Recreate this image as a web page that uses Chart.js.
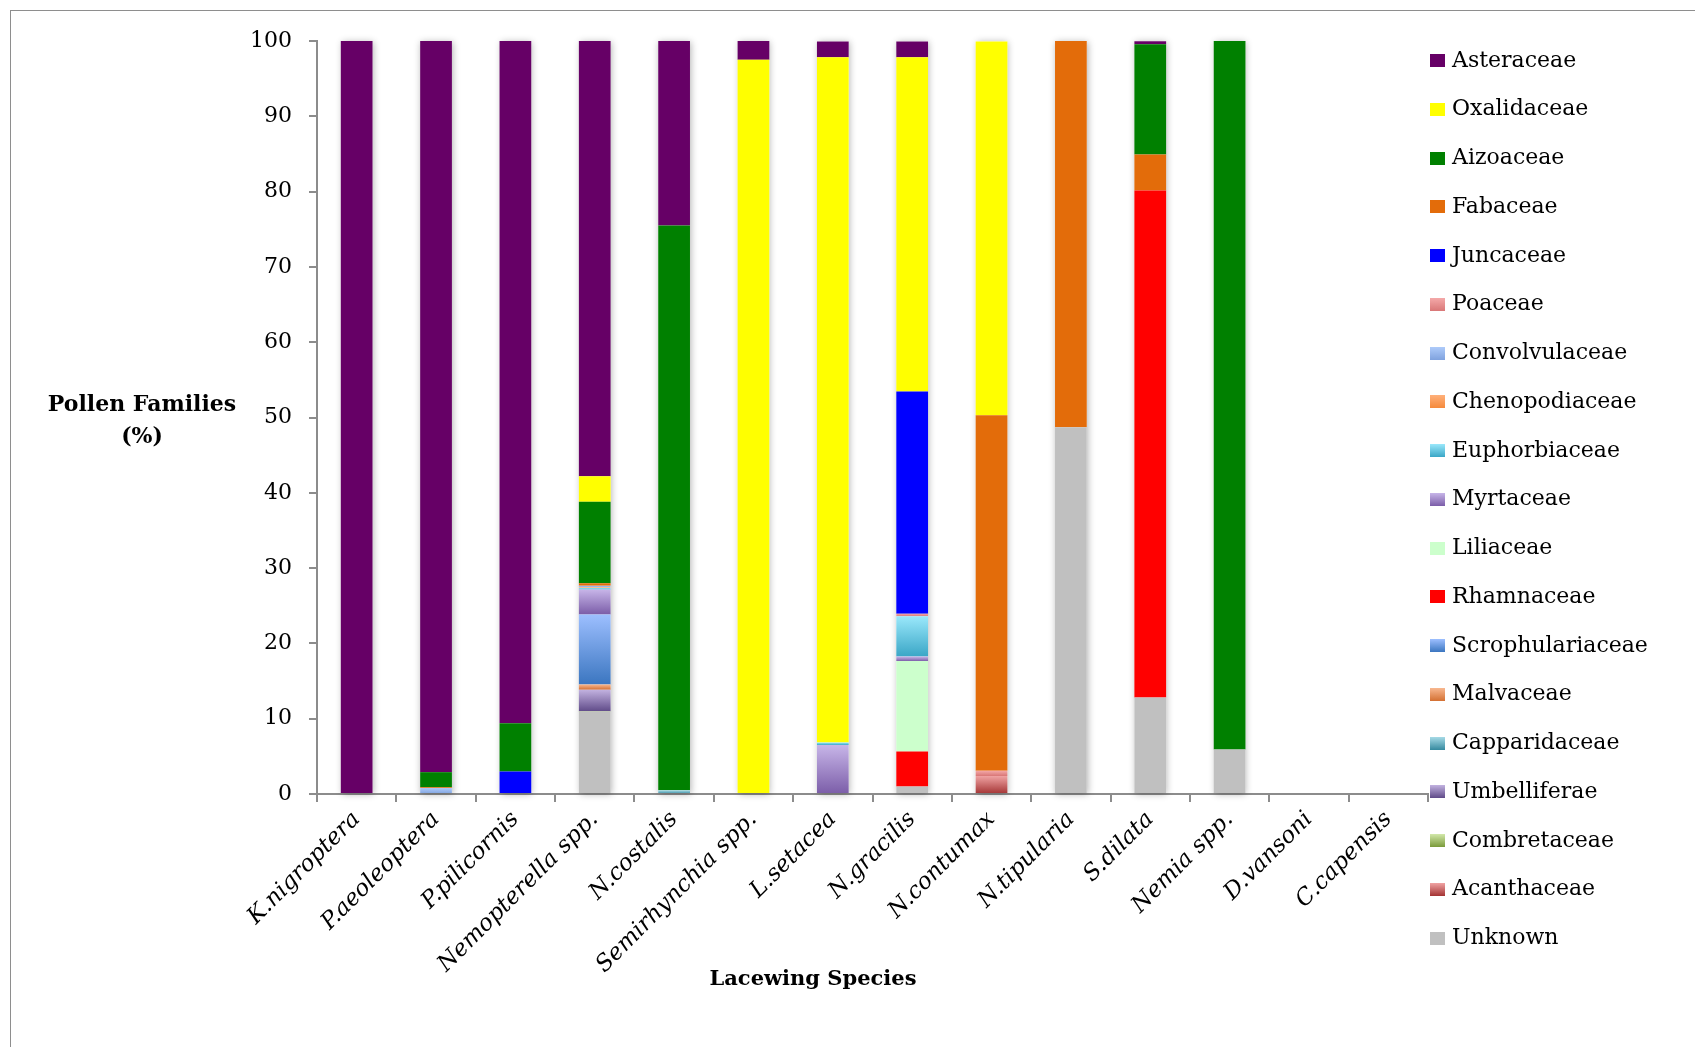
<!DOCTYPE html>
<html>
<head>
<meta charset="utf-8">
<script src="https://cdn.jsdelivr.net/npm/chart.js@4.4.1/dist/chart.umd.min.js"></script>
<style>
  html, body { margin: 0; padding: 0; background: #fff; }
  #wrap { position: relative; width: 1695px; height: 1047px; overflow: hidden; }
  #frame { position: absolute; left: 10px; top: 10px; width: 2000px; height: 2000px; border: 1.5px solid #8e8e8e; }
  #chart { position: absolute; left: 0; top: 0; }
  .ytitle { position: absolute; left: 42px; top: 387px; width: 200px; text-align: center;
            font: bold 22px "DejaVu Serif"; line-height: 32px; color: #000; }
  .xtitle { position: absolute; left: 613px; top: 965px; width: 400px; text-align: center;
            font: bold 21px "DejaVu Serif"; line-height: 26px; color: #000; }
  .lg-box { position: absolute; width: 15px; height: 13px; }
  .lg-text { position: absolute; font: 22px "DejaVu Serif"; line-height: 26px; color: #000; white-space: nowrap; }
</style>
</head>
<body>
<div id="wrap">
  <div id="frame"></div>
  <canvas id="chart" width="1695" height="1047"></canvas>
  <div class="ytitle">Pollen Families<br>(%)</div>
  <div class="xtitle">Lacewing Species</div>
  <div id="legend"></div>
</div>
<script>
// lacewing species on the x axis
const species = ['K.nigroptera', 'P.aeoleoptera', 'P.pilicornis', 'Nemopterella spp.', 'N.costalis',
  'Semirhynchia spp.', 'L.setacea', 'N.gracilis', 'N.contumax', 'N.tipularia', 'S.dilata',
  'Nemia spp.', 'D.vansoni', 'C.capensis'];

// pollen family percentages, one value per species
const asteraceae       = [100, 97.1, 90.6, 57.8, 24.5, 2.5, 2.1, 2.1, 0, 0, 0.4, 0, 0, 0];
const oxalidaceae      = [0, 0, 0, 3.4, 0, 97.5, 91.0, 44.4, 49.65, 0, 0, 0, 0, 0];
const aizoaceae        = [0, 2.0, 6.4, 10.8, 75.0, 0, 0, 0, 0, 0, 14.65, 94.1, 0, 0];
const fabaceae         = [0, 0.1, 0, 0.35, 0, 0, 0, 0, 47.2, 51.3, 4.8, 0, 0, 0];
const juncaceae        = [0, 0, 3.0, 0, 0, 0, 0, 29.5, 0, 0, 0, 0, 0, 0];
const poaceae          = [0, 0, 0, 0, 0, 0, 0, 0.35, 0.7, 0, 0, 0, 0, 0];
const convolvulaceae   = [0, 0.8, 0, 0.2, 0, 0, 0, 0, 0, 0, 0, 0, 0, 0];
const chenopodiaceae   = [0, 0, 0, 0.1, 0, 0, 0, 0, 0, 0, 0, 0, 0, 0];
const euphorbiaceae    = [0, 0, 0, 0.2, 0, 0, 0.35, 5.35, 0, 0, 0, 0, 0, 0];
const myrtaceae        = [0, 0, 0, 3.3, 0, 0, 6.5, 0.6, 0, 0, 0, 0, 0, 0];
const liliaceae        = [0, 0, 0, 0, 0, 0, 0, 12.0, 0, 0, 0, 0, 0, 0];
const rhamnaceae       = [0, 0, 0, 0, 0, 0, 0, 4.65, 0, 0, 67.3, 0, 0, 0];
const scrophulariaceae = [0, 0, 0, 9.3, 0, 0, 0, 0, 0, 0, 0, 0, 0, 0];
const malvaceae        = [0, 0, 0, 0.7, 0, 0, 0, 0, 0, 0, 0, 0, 0, 0];
const capparidaceae    = [0, 0, 0, 0, 0.5, 0, 0, 0, 0, 0, 0, 0, 0, 0];
const umbelliferae     = [0, 0, 0, 2.9, 0, 0, 0, 0, 0, 0, 0, 0, 0, 0];
const combretaceae     = [0, 0, 0, 0.05, 0, 0, 0, 0, 0, 0, 0, 0, 0, 0];
const acanthaceae      = [0, 0, 0, 0, 0, 0, 0, 0, 2.4, 0, 0, 0, 0, 0];
const unknown          = [0, 0, 0, 10.9, 0, 0, 0, 1.0, 0, 48.7, 12.83, 5.9, 0, 0];

const yTicks = [0, 10, 20, 30, 40, 50, 60, 70, 80, 90, 100];

// legend order (top of legend = top of the stack)
const familyNames = ['Asteraceae', 'Oxalidaceae', 'Aizoaceae', 'Fabaceae', 'Juncaceae', 'Poaceae',
  'Convolvulaceae', 'Chenopodiaceae', 'Euphorbiaceae', 'Myrtaceae', 'Liliaceae', 'Rhamnaceae',
  'Scrophulariaceae', 'Malvaceae', 'Capparidaceae', 'Umbelliferae', 'Combretaceae', 'Acanthaceae', 'Unknown'];
const familyValues = [asteraceae, oxalidaceae, aizoaceae, fabaceae, juncaceae, poaceae,
  convolvulaceae, chenopodiaceae, euphorbiaceae, myrtaceae, liliaceae, rhamnaceae,
  scrophulariaceae, malvaceae, capparidaceae, umbelliferae, combretaceae, acanthaceae, unknown];

// plain colours, or [light, dark] for the Excel-style vertical gradients
const familyColors = ['#660066', '#ffff00', '#008000', '#e36c0a', '#0000ff', ['#f4a9a9', '#d97777'],
  ['#aecbfa', '#7fa2de'], ['#ffb07a', '#f58a3c'], ['#9ae8fb', '#3aa6c6'], ['#c7b5e8', '#7b5da8'],
  '#ccffcc', '#ff0000', ['#9dbfff', '#3b76c0'], ['#f8b890', '#d47032'], ['#a6dae6', '#35899f'],
  ['#c2b2e0', '#5f4a88'], ['#d2e8aa', '#7a9a3a'], ['#f0a3a3', '#a33333'], '#c0c0c0'];

function fillFor(color) {
  if (!Array.isArray(color)) return color;
  return (ctx) => {
    const chart = ctx.chart;
    if (ctx.type !== 'data' || !chart.chartArea) return color[0];
    const y = chart.scales.y;
    let base = 0;
    for (let k = 0; k < ctx.datasetIndex; k++) base += chart.data.datasets[k].data[ctx.dataIndex];
    const top = y.getPixelForValue(base + ctx.raw);
    const bot = y.getPixelForValue(base);
    if (bot - top < 1) return color[0];
    const g = chart.ctx.createLinearGradient(0, top, 0, bot);
    g.addColorStop(0, color[0]);
    g.addColorStop(1, color[1]);
    return g;
  };
}

// Chart.js stacks the first dataset at the bottom, so build them in reverse
const datasets = familyNames.map((name, i) => ({
  label: name,
  data: familyValues[i],
  backgroundColor: fillFor(familyColors[i]),
  borderWidth: 0,
  barPercentage: 0.4,
  categoryPercentage: 1
})).reverse();

// soft drop shadow behind each whole stack, like the Excel original
const stackShadow = {
  id: 'stackShadow',
  beforeDatasetsDraw(chart) {
    const c = chart.ctx;
    const metas = chart.getSortedVisibleDatasetMetas();
    species.forEach((_, j) => {
      let top = Infinity, bot = -Infinity, x = 0, w = 0;
      metas.forEach((m) => {
        const el = m.data[j];
        if (!el || el.base - el.y <= 0) return;
        top = Math.min(top, el.y);
        bot = Math.max(bot, el.base);
        x = el.x;
        w = el.width;
      });
      if (top >= bot) return;
      c.save();
      c.shadowColor = 'rgba(0,0,0,0.3)';
      c.shadowBlur = 7;
      c.shadowOffsetX = 1;
      c.shadowOffsetY = 1;
      c.fillStyle = '#fff';
      c.fillRect(x - w / 2, top, w, bot - top);
      c.restore();
    });
  }
};

const axisGrey = '#8c8c8c';

new Chart(document.getElementById('chart'), {
  type: 'bar',
  data: { labels: species, datasets },
  plugins: [stackShadow],
  options: {
    responsive: false,
    animation: false,
    layout: { padding: { left: 0, right: 267, top: 41, bottom: 0 } },
    plugins: { legend: { display: false }, tooltip: { enabled: false } },
    scales: {
      x: {
        stacked: true,
        grid: { drawOnChartArea: false, drawTicks: true, tickLength: 8, color: axisGrey, lineWidth: 2, offset: true },
        border: { color: axisGrey, width: 2 },
        ticks: {
          autoSkip: false, minRotation: 45, maxRotation: 45, padding: 4, color: '#000',
          font: { family: 'DejaVu Serif', style: 'italic', size: 23 }
        },
        afterFit: (s) => { s.height = 253; }
      },
      y: {
        stacked: true,
        min: 0,
        max: 100,
        afterBuildTicks: (s) => { s.ticks = yTicks.map(v => ({ value: v })); },
        grid: { drawOnChartArea: false, drawTicks: true, tickLength: 8, color: axisGrey, lineWidth: 2 },
        border: { color: axisGrey, width: 2 },
        ticks: { padding: 17, color: '#000', font: { family: 'DejaVu Serif', size: 22 } },
        afterFit: (s) => { s.width = 317; }
      }
    }
  }
});

// legend as html, same order as the figure
const legend = document.getElementById('legend');
familyNames.forEach((name, i) => {
  const cy = 60.5 + i * 48.76;
  const c = familyColors[i];
  const box = document.createElement('div');
  box.className = 'lg-box';
  box.style.left = '1430px';
  box.style.top = (cy - 6.5) + 'px';
  box.style.background = Array.isArray(c) ? `linear-gradient(${c[0]}, ${c[1]})` : c;
  legend.appendChild(box);
  const t = document.createElement('div');
  t.className = 'lg-text';
  t.style.left = '1452px';
  t.style.top = (cy - 14) + 'px';
  t.textContent = name;
  legend.appendChild(t);
});
</script>
</body>
</html>
